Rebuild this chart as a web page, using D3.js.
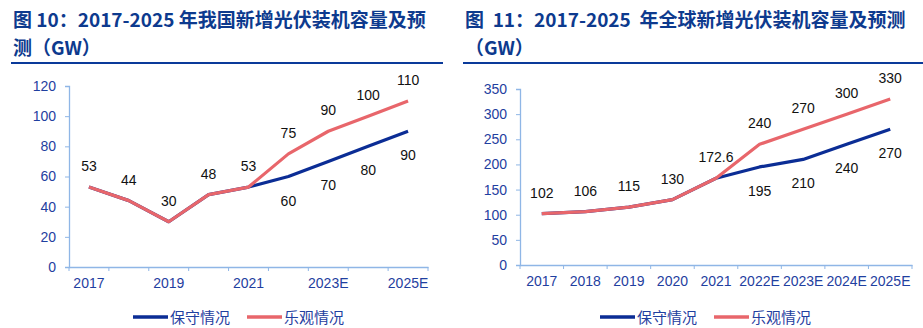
<!DOCTYPE html>
<html><head><meta charset="utf-8">
<script src="https://cdn.jsdelivr.net/npm/d3@7/dist/d3.min.js"></script>
<style>
body{margin:0;background:#fff;}
svg{display:block;}
</style></head>
<body>
<svg id="c" width="923" height="328"></svg>
<script>
// ---- Data ----
const cnCategories = ["2017","2018","2019","2020","2021","2022E","2023E","2024E","2025E"];
const cnTickLabels = ["2017","","2019","","2021","","2023E","","2025E"];
const cnConservative = [53,44,30,48,53,60,70,80,90];
const cnOptimistic   = [53,44,30,48,53,75,90,100,110];
const cnYTicks = [0,20,40,60,80,100,120];

const glCategories = ["2017","2018","2019","2020","2021","2022E","2023E","2024E","2025E"];
const glTickLabels = ["2017","2018","2019","2020","2021","2022E","2023E","2024E","2025E"];
const glConservative = [102,106,115,130,172.6,195,210,240,270];
const glOptimistic   = [102,106,115,130,172.6,240,270,300,330];
const glYTicks = [0,50,100,150,200,250,300,350];

const seriesNames = ["保守情况","乐观情况"];
const titleLeft = ["图 10：2017-2025 年我国新增光伏装机容量及预","测（GW）"];
const titleRight = ["图\u00a0\u00a011：2017-2025\u00a0\u00a0年全球新增光伏装机容量及预测","（GW）"];

// ---- Styles ----
const C_CONS = "#0b2d95", C_OPT = "#e8666b", C_AXIS = "#8fb6e6", C_TICK = "#1f40a0", C_TITLE = "#0d3a8e";
const svg = d3.select("#c");

function title(lines, x0, x1) {
  const g = svg.append("g");
  lines.forEach((t, i) => {
    g.append("text").attr("x", x0 + 2).attr("y", 27 + i * 28)
      .attr("font-family", "'Noto Sans CJK SC', 'Noto Sans', sans-serif")
      .attr("font-weight", "bold").attr("font-size", 19).attr("fill", C_TITLE)
      .style("white-space", "pre")
      .text(t);
  });
  g.append("line").attr("x1", x0).attr("x2", x1).attr("y1", 63).attr("y2", 63)
    .attr("stroke", "#0a3a9a").attr("stroke-width", 2.2);
}

function chart(opts) {
  const {cats, tickLabels, cons, opt, yTicks, yMax, x0, x1, yTop, yBot, legendX} = opts;
  const x = d3.scaleBand().domain(cats).range([x0, x1]);
  const y = d3.scaleLinear().domain([0, yMax]).range([yBot, yTop]);
  const g = svg.append("g");

  // y axis
  const ya = g.append("g").attr("transform", `translate(${x0},0)`)
    .call(d3.axisLeft(y).tickValues(yTicks).tickSize(4).tickPadding(9));
  // x axis
  const boundaries = cats.map(c => x(c)).concat([x1]);
  const xa = g.append("g").attr("transform", `translate(0,${yBot})`)
    .call(d3.axisBottom(x).tickSize(0).tickPadding(11).tickFormat((d, i) => tickLabels[i]));
  g.append("g").selectAll("line").data(boundaries).join("line")
    .attr("x1", d => d).attr("x2", d => d).attr("y1", yBot).attr("y2", yBot + 4)
    .attr("stroke", C_AXIS).attr("stroke-width", 1);
  [ya, xa].forEach(a => {
    a.selectAll("path.domain").attr("stroke", C_AXIS).attr("stroke-width", 1.3);
    a.selectAll(".tick line").attr("stroke", C_AXIS);
    a.selectAll("text").attr("fill", C_TICK).attr("font-size", 14)
      .attr("font-family", "'Liberation Sans', Arial, sans-serif");
  });

  const cx = c => x(c) + x.bandwidth() / 2;
  const line = d3.line().x((d, i) => cx(cats[i])).y(d => y(d));
  g.append("path").datum(cons).attr("d", line).attr("fill", "none")
    .attr("stroke", C_CONS).attr("stroke-width", 3.2).attr("stroke-linejoin", "round");
  g.append("path").datum(opt).attr("d", line).attr("fill", "none")
    .attr("stroke", C_OPT).attr("stroke-width", 3.2).attr("stroke-linejoin", "round");

  const lf = "'Liberation Sans', Arial, sans-serif";
  // optimistic labels (above)
  g.append("g").selectAll("text").data(opt).join("text")
    .attr("x", (d, i) => cx(cats[i])).attr("y", d => y(d) - 16)
    .attr("text-anchor", "middle").attr("font-family", lf).attr("font-size", 14).attr("fill", "#111")
    .text(d => d);
  // conservative labels (below), where differs
  g.append("g").selectAll("text").data(cons.map((d, i) => ({d, i})).filter(o => o.d !== opt[o.i])).join("text")
    .attr("x", o => cx(cats[o.i])).attr("y", o => y(o.d) + 29)
    .attr("text-anchor", "middle").attr("font-family", lf).attr("font-size", 14).attr("fill", "#111")
    .text(o => o.d);

  // legend
  const lg = g.append("g").attr("transform", `translate(${legendX},317)`);
  const items = [{n: seriesNames[0], c: C_CONS}, {n: seriesNames[1], c: C_OPT}];
  items.forEach((it, i) => {
    const ox = i * 114;
    lg.append("line").attr("x1", ox).attr("x2", ox + 35).attr("y1", 0).attr("y2", 0)
      .attr("stroke", it.c).attr("stroke-width", 3.5);
    lg.append("text").attr("x", ox + 37).attr("y", 5.5)
      .attr("font-family", "'Noto Sans CJK SC', sans-serif").attr("font-size", 15).attr("fill", C_TICK)
      .text(it.n);
  });
}

title(titleLeft, 11, 443);
title(titleRight, 463, 923);

chart({cats: cnCategories, tickLabels: cnTickLabels, cons: cnConservative, opt: cnOptimistic,
  yTicks: cnYTicks, yMax: 120, x0: 69, x1: 428, yTop: 86, yBot: 267, legendX: 133});
chart({cats: glCategories, tickLabels: glTickLabels, cons: glConservative, opt: glOptimistic,
  yTicks: glYTicks, yMax: 350, x0: 520, x1: 912, yTop: 89, yBot: 265, legendX: 600});
</script>
</body></html>
